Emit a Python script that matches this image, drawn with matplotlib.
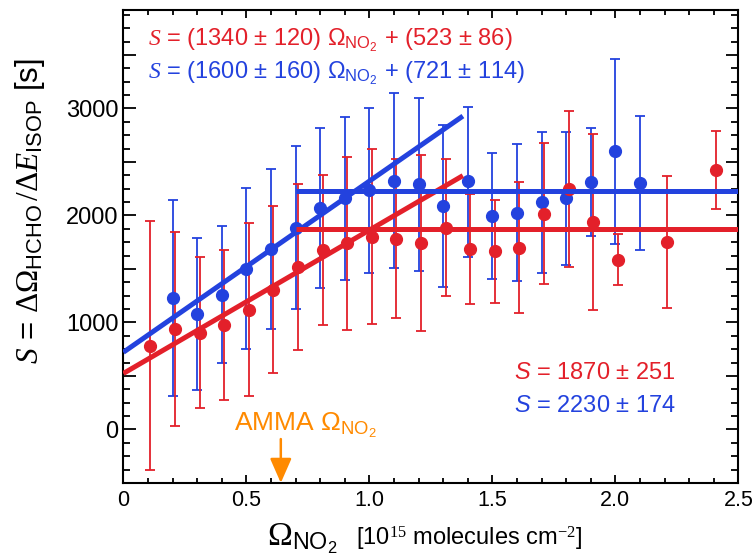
import numpy as np
import matplotlib
matplotlib.use("Agg")
import matplotlib.pyplot as plt
from matplotlib.ticker import MultipleLocator, FuncFormatter

plt.rcParams['font.family'] = ['Liberation Sans', 'DejaVu Sans']
plt.rcParams['mathtext.fontset'] = 'custom'
plt.rcParams['mathtext.rm'] = 'Liberation Serif'
plt.rcParams['mathtext.it'] = 'Liberation Serif:italic'
plt.rcParams['mathtext.sf'] = 'Liberation Sans'
# bf slot holds the sans italic S of the plateau labels
plt.rcParams['mathtext.bf'] = 'Liberation Sans:italic'

RED = '#E3202A'
BLUE = '#2342DE'
ORANGE = '#FF8A00'

# NO2 column bins [1e15 molecules cm-2], S value and lower/upper end of each bar
red_x = [0.11, 0.21, 0.31, 0.41, 0.51, 0.61, 0.71, 0.81, 0.91, 1.01, 1.11,
         1.21, 1.31, 1.41, 1.51, 1.61, 1.71, 1.81, 1.91, 2.01, 2.21, 2.41]
red_s = [778, 934, 903, 975, 1112, 1306, 1519, 1675, 1738, 1800, 1784,
         1738, 1884, 1691, 1666, 1700, 2012, 2247, 1940, 1588, 1753, 2425]
red_lo = [-381, 28, 197, 275, 316, 528, 747, 972, 925, 988, 1044,
          916, 1244, 1175, 1185, 1091, 1363, 1518, 1119, 1347, 1138, 2056]
red_hi = [1945, 1847, 1612, 1681, 1925, 2087, 2293, 2378, 2549, 2621, 2525,
          2565, 2525, 2203, 2143, 2309, 2675, 2980, 2760, 1831, 2368, 2790]

blue_x = [0.2, 0.3, 0.4, 0.5, 0.6, 0.7, 0.8, 0.9, 1.0, 1.1,
          1.2, 1.3, 1.4, 1.5, 1.6, 1.7, 1.8, 1.9, 2.0, 2.1]
blue_s = [1228, 1081, 1260, 1503, 1684, 1884, 2066, 2159, 2237, 2324,
          2293, 2090, 2318, 1997, 2025, 2122, 2159, 2315, 2603, 2306]
blue_lo = [316, 372, 622, 750, 934, 1122, 1325, 1400, 1462, 1512,
           1481, 1331, 1612, 1409, 1384, 1466, 1541, 1809, 1737, 1675]
blue_hi = [2143, 1790, 1900, 2259, 2434, 2650, 2815, 2924, 3003, 3143,
           3097, 2850, 3015, 2587, 2665, 2780, 2780, 2815, 3465, 2931]

# linear fits below saturation, constant above
red_fit = (1340, 523)
blue_fit = (1600, 721)
fit_end = 1.38
red_plateau = 1870
blue_plateau = 2230
plateau_start = 0.7
amma_no2 = 0.64

fig = plt.figure(figsize=(7.52, 5.57), dpi=100)
ax = fig.add_axes([0.164, 0.133, 0.818, 0.849])


def draw_series(x, s, lo, hi, color):
    s = np.array(s)
    yerr = [s - np.array(lo), np.array(hi) - s]
    ax.errorbar(x, s, yerr=yerr, fmt='o', color=color, ms=8.5,
                markeredgecolor=color, elinewidth=1.3, capsize=3.5,
                capthick=1.3, zorder=3)


draw_series(blue_x, blue_s, blue_lo, blue_hi, BLUE)
draw_series(red_x, red_s, red_lo, red_hi, RED)

xf = np.array([0, fit_end])
ax.plot(xf, red_fit[0] * xf + red_fit[1], color=RED, lw=3.6, zorder=4,
        solid_capstyle='butt')
ax.plot(xf, blue_fit[0] * xf + blue_fit[1], color=BLUE, lw=3.6, zorder=4,
        solid_capstyle='butt')
ax.plot([plateau_start, 2.5], [red_plateau] * 2, color=RED, lw=3.6, zorder=4,
        solid_capstyle='butt')
ax.plot([plateau_start, 2.5], [blue_plateau] * 2, color=BLUE, lw=3.6, zorder=4,
        solid_capstyle='butt')

fs = 17
ax.text(0.10, 3590, r'$S$ = (%d ± 120) $\mathsf{\Omega_{NO_2}}$ + (%d ± 86)' % red_fit,
        color=RED, fontsize=fs, va='baseline', ha='left')
ax.text(0.10, 3277, r'$S$ = (%d ± 160) $\mathsf{\Omega_{NO_2}}$ + (%d ± 114)' % blue_fit,
        color=BLUE, fontsize=fs, va='baseline', ha='left')
ax.text(1.917, 472, r'$\mathbf{S}$ = %d ± 251' % red_plateau,
        color=RED, fontsize=fs, va='baseline', ha='center')
ax.text(1.917, 160, r'$\mathbf{S}$ = %d ± 174' % blue_plateau,
        color=BLUE, fontsize=fs, va='baseline', ha='center')

# AMMA campaign mean NO2 column
ax.text(0.74, -10, r'AMMA $\mathsf{\Omega_{NO_2}}$', color=ORANGE, fontsize=19,
        va='baseline', ha='center')
ax.annotate('', xy=(amma_no2, -500), xytext=(amma_no2, -90),
            arrowprops=dict(arrowstyle='-|>,head_length=0.75,head_width=0.33',
                            mutation_scale=20, color=ORANGE, lw=1.8,
                            shrinkA=0, shrinkB=0))

ax.set_xlim(0, 2.5)
ax.set_ylim(-500, 3920)
ax.xaxis.set_major_locator(MultipleLocator(0.5))
ax.xaxis.set_minor_locator(MultipleLocator(0.1))
ax.xaxis.set_major_formatter(FuncFormatter(lambda v, p: '0' if v == 0 else '%.1f' % v))
ax.yaxis.set_major_locator(MultipleLocator(500))
ax.yaxis.set_minor_locator(MultipleLocator(125))
ax.yaxis.set_major_formatter(FuncFormatter(lambda v, p: '%d' % v if v % 1000 == 0 else ''))

ax.tick_params(which='both', direction='in', top=True, right=True, width=1.3,
               labelsize=17)
ax.tick_params(axis='x', which='major', length=6, pad=5, labelsize=15.5)
ax.tick_params(axis='x', which='minor', length=3.5)
ax.tick_params(axis='y', which='major', length=9, pad=3.5)
ax.tick_params(axis='y', which='minor', length=5)
for sp in ax.spines.values():
    sp.set_linewidth(1.5)

ax.set_ylabel(r'$S$ = $\Delta\Omega_{\mathsf{HCHO}}\,/\Delta E_{\mathsf{ISOP}}$ [s]',
              fontsize=22.5)
ax.yaxis.set_label_coords(-0.124, 0.575)

ax.text(0.233, -0.132, r'$\Omega_{\mathsf{NO_2}}$', transform=ax.transAxes,
        fontsize=24, ha='left', va='baseline')
ax.text(0.378, -0.132, r'[10$^{15}$ molecules cm$^{-2}$]', transform=ax.transAxes,
        fontsize=17, ha='left', va='baseline')

fig.savefig('out.png', dpi=100)
